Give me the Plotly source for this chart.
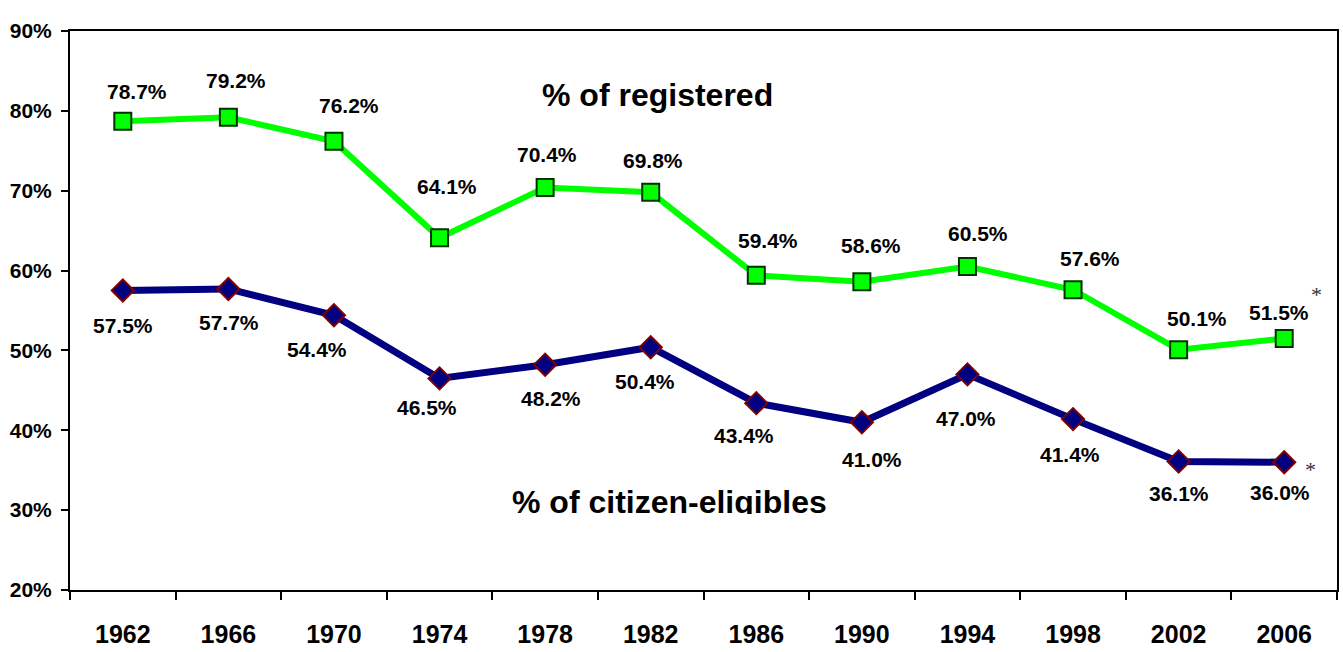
import plotly.graph_objects as go

years = ["1962", "1966", "1970", "1974", "1978", "1982", "1986", "1990", "1994", "1998", "2002", "2006"]
registered = [78.7, 79.2, 76.2, 64.1, 70.4, 69.8, 59.4, 58.6, 60.5, 57.6, 50.1, 51.5]
eligibles = [57.5, 57.7, 54.4, 46.5, 48.2, 50.4, 43.4, 41.0, 47.0, 41.4, 36.1, 36.0]
y_ticks = [20, 30, 40, 50, 60, 70, 80, 90]

xpos = list(range(len(years)))
bounds = [i - 0.5 for i in range(len(years) + 1)]

# label offsets in screen pixels (dx right, dy down) relative to the data point
reg_off = [(14, -30), (8, -37), (15, -36), (7, -51), (2, -33), (2, -32), (12, -35), (9, -36), (11, -33), (17, -31), (18, -31), (-5, -26)]
elig_off = [(0, 35), (1, 34), (-17, 34), (-13, 29), (6, 34), (-6, 34), (-12, 32), (10, 37), (-1, 44), (-3, 35), (0, 32), (-4, 30)]

fig = go.Figure()
fig.add_trace(go.Scatter(
    x=xpos, y=registered, mode="lines+markers",
    line=dict(color="#00FF00", width=6),
    marker=dict(symbol="square", size=17, color="#00FF00", line=dict(color="#003300", width=2)),
    hoverinfo="skip"))
fig.add_trace(go.Scatter(
    x=xpos, y=eligibles, mode="lines+markers",
    line=dict(color="#000080", width=7),
    marker=dict(symbol="diamond", size=17, color="#000080", line=dict(color="#800000", width=2)),
    hoverinfo="skip"))

lab_font = dict(family="Liberation Sans, Arial", size=21, color="black")
for i, v in enumerate(registered):
    dx, dy = reg_off[i]
    fig.add_annotation(x=xpos[i], y=v, text="<b>%.1f%%</b>" % v, showarrow=False,
                       xshift=dx, yshift=-dy, font=lab_font)
for i, v in enumerate(eligibles):
    dx, dy = elig_off[i]
    fig.add_annotation(x=xpos[i], y=v, text="<b>%.1f%%</b>" % v, showarrow=False,
                       xshift=dx, yshift=-dy, font=lab_font)

star_font = dict(family="Liberation Serif, Times New Roman", size=22, color="#333333")
fig.add_annotation(x=xpos[-1], y=registered[-1], text="*", showarrow=False, xshift=32, yshift=44, font=star_font)
fig.add_annotation(x=xpos[-1], y=eligibles[-1], text="*", showarrow=False, xshift=26, yshift=-7, font=star_font)

title_font = dict(family="Liberation Sans, Arial", size=32, color="black")
fig.add_annotation(xref="paper", yref="paper", x=0.4634, y=0.8855, yanchor="middle",
                   text="<b>% of registered</b>", showarrow=False, font=title_font)
fig.add_annotation(xref="paper", yref="paper", x=0.4728, y=0.192, yanchor="top",
                   height=30, valign="top", borderpad=0,
                   text="<b>% of citizen-eligibles</b>", showarrow=False, font=title_font)

fig.update_layout(
    width=1343, height=652,
    margin=dict(l=70, r=4, t=31, b=62),
    paper_bgcolor="white", plot_bgcolor="white",
    showlegend=False,
    xaxis=dict(range=[-0.5, len(years) - 0.5], tickvals=xpos, ticktext=["<b>%s</b>" % y for y in years],
               ticks="", showline=True, linecolor="black", linewidth=2, mirror=True,
               showgrid=False, zeroline=False, ticklabelstandoff=21,
               tickfont=dict(family="Liberation Sans, Arial", size=25, color="black"),
               minor=dict(tickvals=bounds, ticks="outside", ticklen=8, tickwidth=2, tickcolor="black", showgrid=False)),
    yaxis=dict(range=[20, 90], tickvals=y_ticks, ticktext=["<b>%d%%</b>" % t for t in y_ticks],
               ticks="outside", ticklen=7, tickwidth=2, tickcolor="black",
               showline=True, linecolor="black", linewidth=2, mirror=True, showgrid=False,
               zeroline=False, ticklabelstandoff=5,
               tickfont=dict(family="Liberation Sans, Arial", size=21, color="black")),
)
post = ("document.body.style.margin='0';document.body.style.padding='0';"
        "document.body.style.overflow='hidden';"
        "var gd=document.getElementById('{plot_id}');"
        "Plotly.relayout(gd,{width:1343,height:652});")
fig.write_html("out.html", post_script=post, config={"displayModeBar": False})
